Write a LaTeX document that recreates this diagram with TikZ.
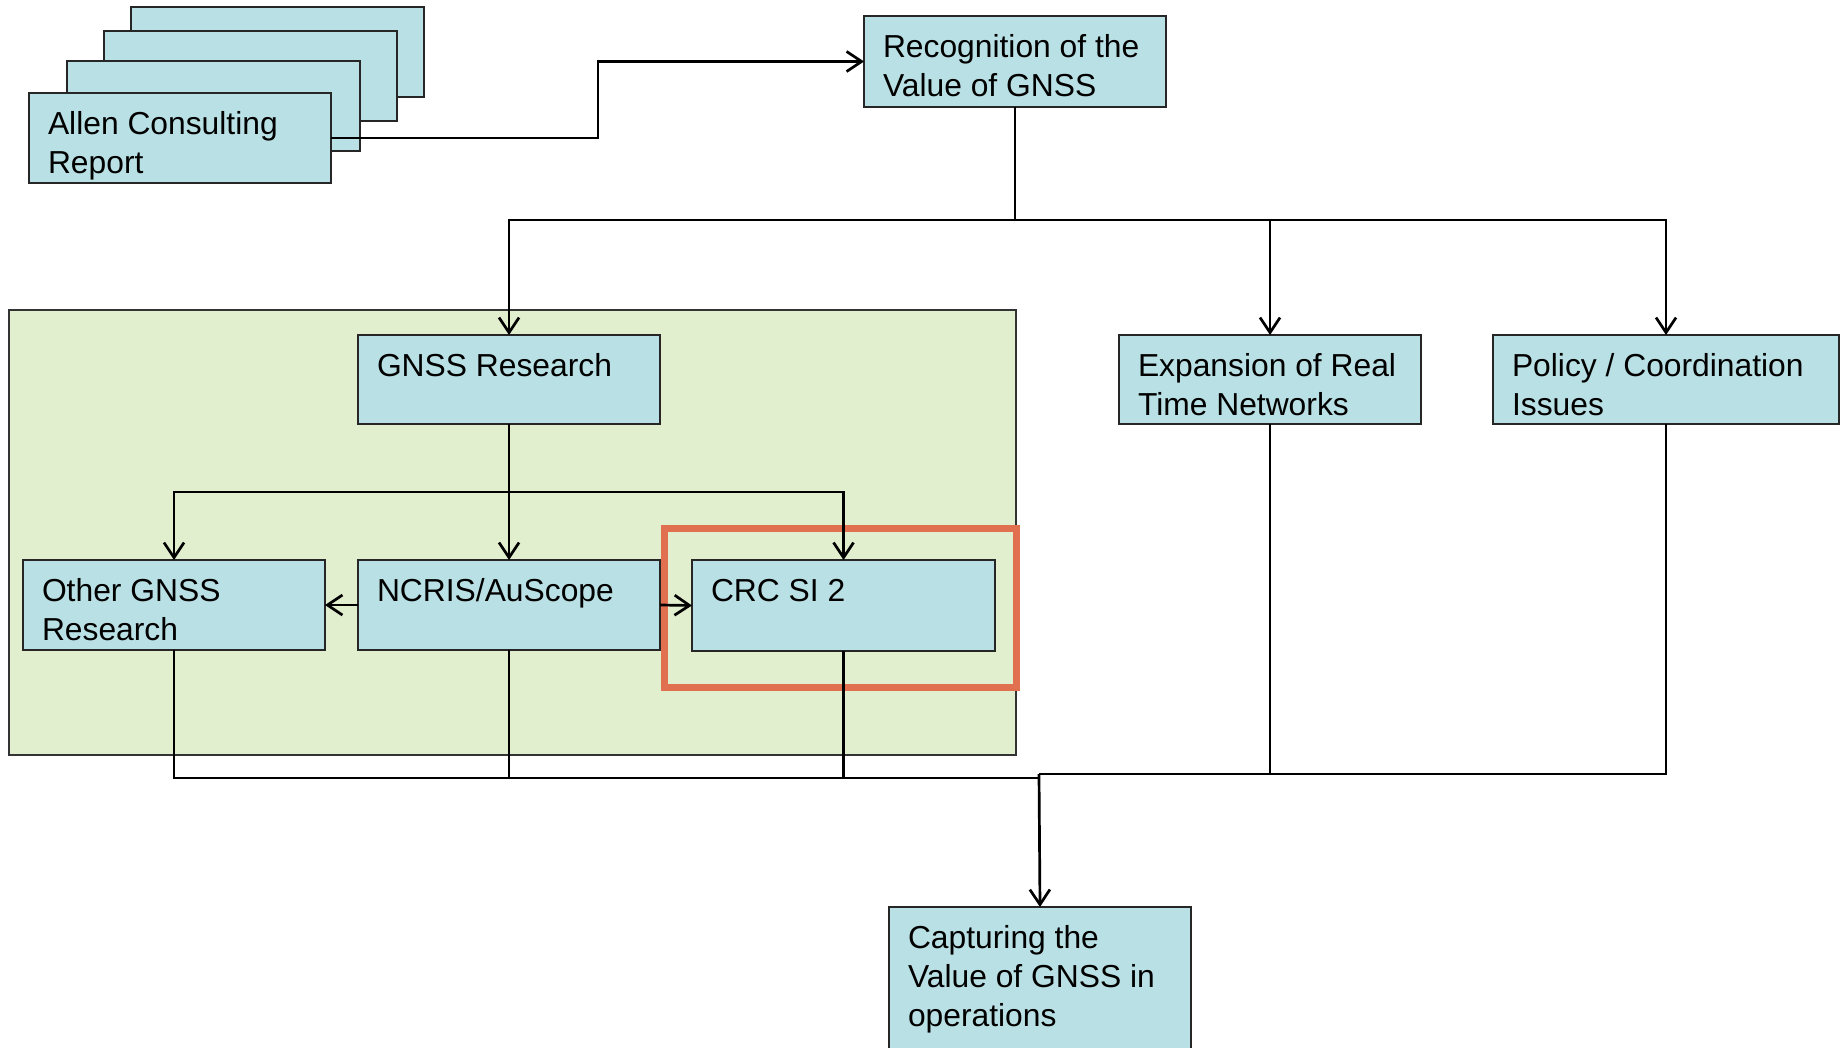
\documentclass[tikz,border=0pt]{standalone}
\usepackage{fontspec}
\setmainfont{Liberation Sans}
\usetikzlibrary{arrows.meta}

\definecolor{boxblue}{HTML}{B9E0E4}
\definecolor{areagreen}{HTML}{E2EFCE}
\definecolor{focusred}{HTML}{E07050}

% text of a box: width, height, lines (top aligned)
\newcommand{\boxtext}[3]{\parbox[c][#2][t]{#1}{\raggedright\rule{0pt}{41.5pt}#3}}

\tikzset{
	box/.style={draw=black!85, line width=1.5pt, fill=boxblue, anchor=north west,
		inner xsep=19pt, inner ysep=0pt, outer sep=0pt,
		font=\fontsize{31.8}{38.8}\selectfont},
	backbox/.style={draw=black!85, line width=1.5pt, fill=boxblue, anchor=north west,
		inner sep=0pt, outer sep=0pt, minimum width=293pt, minimum height=90pt},
	link/.style={line width=2.7pt},
	>={Straight Barb[length=15pt,width=20pt]}
}

\begin{document}
\begin{tikzpicture}[x=1pt, y=-1pt]
				\useasboundingbox (0,0) rectangle (1841,1048);
				\fill[white] (0,0) rectangle (1841,1048);

				% research area
				\draw[fill=areagreen, draw=black!80, line width=1.3pt] (9,310) rectangle (1016,755);

				% report stack
				\node (Allen4) [backbox] at (131,7) {};
				\node (Allen3) [backbox] at (104,31) {};
				\node (Allen2) [backbox] at (67,61) {};
				\node (Allen) [box] at (29,93) {\boxtext{264pt}{90pt}{Allen Consulting\\Report}};

				\node (Rec) [box] at (864,16) {\boxtext{264pt}{91pt}{Recognition of the\\Value of GNSS}};

				\node (Gnss) [box] at (358,335) {\boxtext{264pt}{89pt}{GNSS Research}};
				\node (Exp) [box] at (1119,335) {\boxtext{264pt}{89pt}{Expansion of Real\\Time Networks}};
				\node (Pol) [box] at (1493,335) {\boxtext{308pt}{89pt}{Policy / Coordination\\Issues}};

				\node (Other) [box] at (23,560) {\boxtext{264pt}{90pt}{Other GNSS\\Research}};
				\node (Ncris) [box] at (358,560) {\boxtext{264pt}{90pt}{NCRIS/AuScope}};
				\node (Crc) [box] at (692,560) {\boxtext{265pt}{91pt}{CRC SI 2}};

				% highlight
				\draw[focusred, line width=7pt] (664,528) rectangle (1016,687);

				\node (Cap) [box] at (889,907) {\boxtext{264pt}{160pt}{Capturing the\\Value of GNSS in\\operations}};

				% report to recognition
				\coordinate (Bend) at (598,100);
				\draw[link, ->] (Allen.east) -| (Bend) |- (Rec.west);

				% recognition to the three streams
				\coordinate (Split) at (1015,220);
				\draw[link] (Rec.south) -- (Split);
				\draw[link, ->] (Split) -| (Gnss.north);
				\draw[link, ->] (Split) -| (Exp.north);
				\draw[link, ->] (Split) -| (Pol.north);

				% research branches
				\coordinate (MidSplit) at (509,492);
				\draw[link] (Gnss.south) -- (MidSplit);
				\draw[link, ->] (MidSplit) -- (Ncris.north);
				\draw[link, ->] (MidSplit) -| (Other.north);
				\draw[link, ->] (MidSplit) -| (Crc.north);
				\draw[link, ->] (Ncris.west) -- (Other.east);
				\draw[link, ->] (Ncris.east) -- (Crc.west);

				% everything into capturing
				\coordinate (JoinL) at (1039,778);
				\coordinate (Join) at (1039,774);
				\draw[link] (Other.south) |- (JoinL) -- (Join);
				\draw[link] (Ncris.south) -- (Ncris.south |- JoinL);
				\draw[link] (Crc.south) -- (Crc.south |- JoinL);
				\draw[link] (Exp.south) |- (Join);
				\draw[link] (Pol.south) |- (Join);
				\draw[link, ->] (Join) -- (Cap.north);
			\end{tikzpicture}
\end{document}
